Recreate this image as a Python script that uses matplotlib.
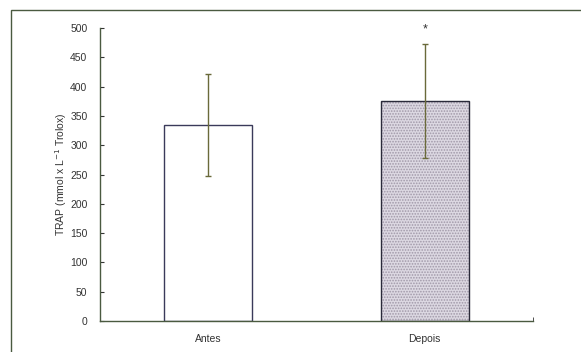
import matplotlib
matplotlib.use("Agg")
import matplotlib.pyplot as plt
from matplotlib.patches import Rectangle
from matplotlib.ticker import FixedLocator

categories = ["Antes", "Depois"]
means = [335, 375]
errors = [87, 97]
y_ticks = [0, 50, 100, 150, 200, 250, 300, 350, 400, 450, 500]

plt.rcParams['font.family'] = ['Liberation Sans', 'DejaVu Sans']
plt.rcParams['hatch.linewidth'] = 0.8

fig = plt.figure(figsize=(5.81, 3.52), dpi=100)
ax = fig.add_axes([100/581, 1-321/352, 433/581, 293/352])

x = list(range(len(categories)))
ax.bar(x[0], means[0], width=0.405, color='white', edgecolor='#3a3a5a', linewidth=1.0, zorder=2)
# hatched fill (light pattern), then dark outline
ax.bar(x[1], means[1], width=0.405, color='#dcd8e2', edgecolor='#a098a8', linewidth=0,
       hatch='......', zorder=2)
ax.bar(x[1], means[1], width=0.405, fill=False, edgecolor='#2a2a3a', linewidth=1.0, zorder=2.5)
ax.errorbar(x, means, yerr=errors, fmt='none', ecolor='#6a6a3a', elinewidth=1.0,
            capsize=2.5, capthick=1.0, zorder=3)
ax.text(x[1], means[1] + errors[1] + 16, '*', ha='center', va='bottom', fontsize=9, color='#333')

ax.set_xlim(-0.5, 1.5)
ax.set_ylim(0, 500)
ax.set_yticks(y_ticks)
ax.set_xticks(x)
ax.set_xticklabels(categories, fontsize=7.5, color='#333')
ax.tick_params(axis='x', length=0, pad=9)
ax.tick_params(axis='y', direction='in', length=3, labelsize=7.5, labelcolor='#333', color='#333', pad=9)
ax.xaxis.set_minor_locator(FixedLocator([1.5]))
ax.tick_params(axis='x', which='minor', direction='in', length=3, color='#333')
for s in ['top', 'right']:
    ax.spines[s].set_visible(False)
for s in ['left', 'bottom']:
    ax.spines[s].set_color('#4a5a40')
    ax.spines[s].set_linewidth(1.0)
ax.set_ylabel('TRAP (mmol x L$^{-1}$ Trolox)', fontsize=7.5, color='#333', labelpad=1)

fig.patches.append(Rectangle((11/581, -0.05), 1.1, 1.05 - 10/352, transform=fig.transFigure,
                             fill=False, edgecolor='#4a5a40', linewidth=1.0))

fig.savefig('out.png', dpi=100)
